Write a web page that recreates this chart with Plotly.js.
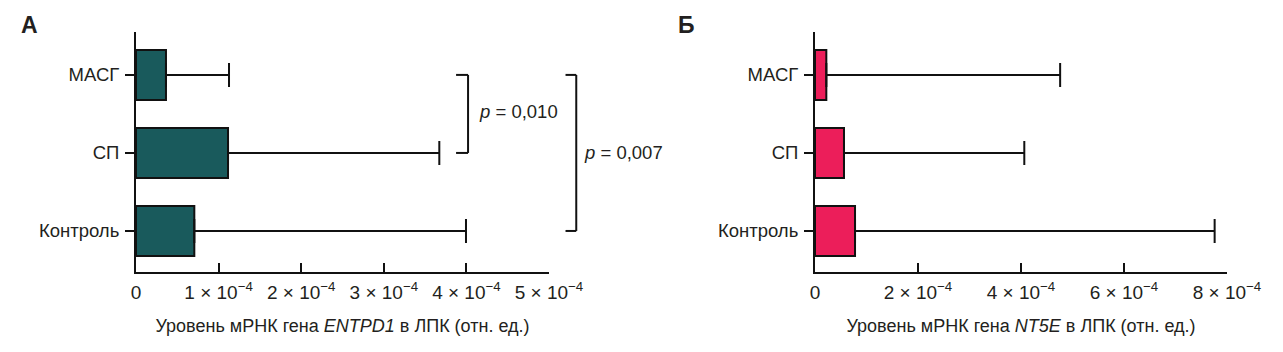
<!DOCTYPE html>
<html>
<head>
<meta charset="utf-8">
<script src="https://cdn.plot.ly/plotly-3.0.1.min.js"></script>
<style>
html,body{margin:0;padding:0;background:#fff;}
#chart{width:1283px;height:352px;}
</style>
</head>
<body>
<div id="chart"></div>
<script>
// ---- data ----
const categories = ['Контроль', 'СП', 'МАСГ'];
const entpd1Mean = [0.706e-4, 1.114e-4, 0.363e-4];
const entpd1Upper = [3.995e-4, 3.672e-4, 1.126e-4];
const nt5eMean = [0.777e-4, 0.563e-4, 0.22e-4];
const nt5eUpper = [7.76e-4, 4.064e-4, 4.76e-4];
const tickValsA = [0, 1e-4, 2e-4, 3e-4, 4e-4, 5e-4];
const tickTextA = ['0', '1 × 10<sup>−4</sup>', '2 × 10<sup>−4</sup>', '3 × 10<sup>−4</sup>', '4 × 10<sup>−4</sup>', '5 × 10<sup>−4</sup>'];
const tickValsB = [0, 2e-4, 4e-4, 6e-4, 8e-4];
const tickTextB = ['0', '2 × 10<sup>−4</sup>', '4 × 10<sup>−4</sup>', '6 × 10<sup>−4</sup>', '8 × 10<sup>−4</sup>'];
const titleA = 'Уровень мРНК гена <i>ENTPD1</i> в ЛПК (отн. ед.)';
const titleB = 'Уровень мРНК гена <i>NT5E</i> в ЛПК (отн. ед.)';
const pLabels = ['<i>p</i> = 0,010', '<i>p</i> = 0,007'];

const W = 1283;
const FONT = '"Liberation Sans", Arial, Helvetica, sans-serif';
const TXT = '#231f20';

function plusErr(mean, upper) { return upper.map((u, i) => u - mean[i]); }

const traceA = {
  type: 'bar', orientation: 'h', x: entpd1Mean, y: categories,
  xaxis: 'x', yaxis: 'y', width: 0.64,
  marker: {color: '#195a5c', line: {color: '#111', width: 2}},
  error_x: {type: 'data', symmetric: false, array: plusErr(entpd1Mean, entpd1Upper),
            arrayminus: entpd1Mean.map(() => 0), color: '#111', thickness: 2, width: 12},
  hoverinfo: 'x+y', showlegend: false
};
const traceB = {
  type: 'bar', orientation: 'h', x: nt5eMean, y: categories,
  xaxis: 'x2', yaxis: 'y2', width: 0.64,
  marker: {color: '#ec1e5a', line: {color: '#111', width: 2}},
  error_x: {type: 'data', symmetric: false, array: plusErr(nt5eMean, nt5eUpper),
            arrayminus: nt5eMean.map(() => 0), color: '#111', thickness: 2, width: 12},
  hoverinfo: 'x+y', showlegend: false
};

function xAxis(domain, range, tv, tt, title, anchor) {
  return {
    domain: domain, range: range, anchor: anchor, fixedrange: true,
    tickmode: 'array', tickvals: tv, ticktext: tt,
    ticks: 'inside', ticklen: 9, tickwidth: 2, tickcolor: '#111',
    showline: true, linecolor: '#111', linewidth: 2, mirror: false,
    showgrid: false, zeroline: false, automargin: false,
    tickfont: {family: FONT, size: 19, color: TXT},
    ticklabelstandoff: 2,
    title: {text: title, font: {family: FONT, size: 18, color: TXT}, standoff: 18}
  };
}
function yAxis(anchor) {
  return {
    domain: [0, 1], anchor: anchor, type: 'category', categoryorder: 'array', categoryarray: categories,
    range: [-0.526, 2.55], fixedrange: true,
    ticks: 'outside', ticklen: 9, tickwidth: 2, tickcolor: '#111',
    showline: true, linecolor: '#111', linewidth: 2,
    showgrid: false, zeroline: false, automargin: false,
    tickfont: {family: FONT, size: 18.5, color: TXT},
    ticklabelstandoff: 2
  };
}

const domA = [136 / W, 549 / W];
const domB = [815 / W, 1227 / W];

const bracketLine = {color: '#111', width: 2};
function bracket(x0, x1, yTop, yBot) {
  return [
    {type: 'line', xref: 'x domain', yref: 'y', x0: x1, x1: x1, y0: yTop, y1: yBot, line: bracketLine},
    {type: 'line', xref: 'x domain', yref: 'y', x0: x0, x1: x1, y0: yTop, y1: yTop, line: bracketLine},
    {type: 'line', xref: 'x domain', yref: 'y', x0: x0, x1: x1, y0: yBot, y1: yBot, line: bracketLine}
  ];
}

const layout = {
  width: 1283, height: 352,
  margin: {l: 0, r: 0, t: 32, b: 80},
  paper_bgcolor: '#fff', plot_bgcolor: 'rgba(0,0,0,0)',
  bargap: 0.36,
  font: {family: FONT, color: TXT},
  xaxis: xAxis(domA, [0, 5e-4], tickValsA, tickTextA, titleA, 'y'),
  yaxis: yAxis('x'),
  xaxis2: xAxis(domB, [0, 8e-4], tickValsB, tickTextB, titleB, 'y2'),
  yaxis2: yAxis('x2'),
  shapes: [].concat(
    bracket(0.775, 0.804, categories[2], categories[1]),
    bracket(1.04, 1.066, categories[2], categories[0])
  ),
  annotations: [
    {xref: 'x domain', yref: 'y', x: 0.826, y: 1.53, text: pLabels[0], showarrow: false,
     xanchor: 'left', yanchor: 'middle', font: {family: FONT, size: 18.5, color: TXT}},
    {xref: 'x domain', yref: 'y', x: 1.08, y: 1, text: pLabels[1], showarrow: false,
     xanchor: 'left', yanchor: 'middle', font: {family: FONT, size: 18.5, color: TXT}},
    {xref: 'paper', yref: 'paper', x: 19 / W, y: 1.029, text: '<b>А</b>', showarrow: false,
     xanchor: 'left', yanchor: 'middle', font: {family: FONT, size: 23, color: TXT}},
    {xref: 'paper', yref: 'paper', x: 676 / W, y: 1.029, text: '<b>Б</b>', showarrow: false,
     xanchor: 'left', yanchor: 'middle', font: {family: FONT, size: 23, color: TXT}}
  ]
};

Plotly.newPlot('chart', [traceA, traceB], layout, {displayModeBar: false, staticPlot: true});
</script>
</body>
</html>
